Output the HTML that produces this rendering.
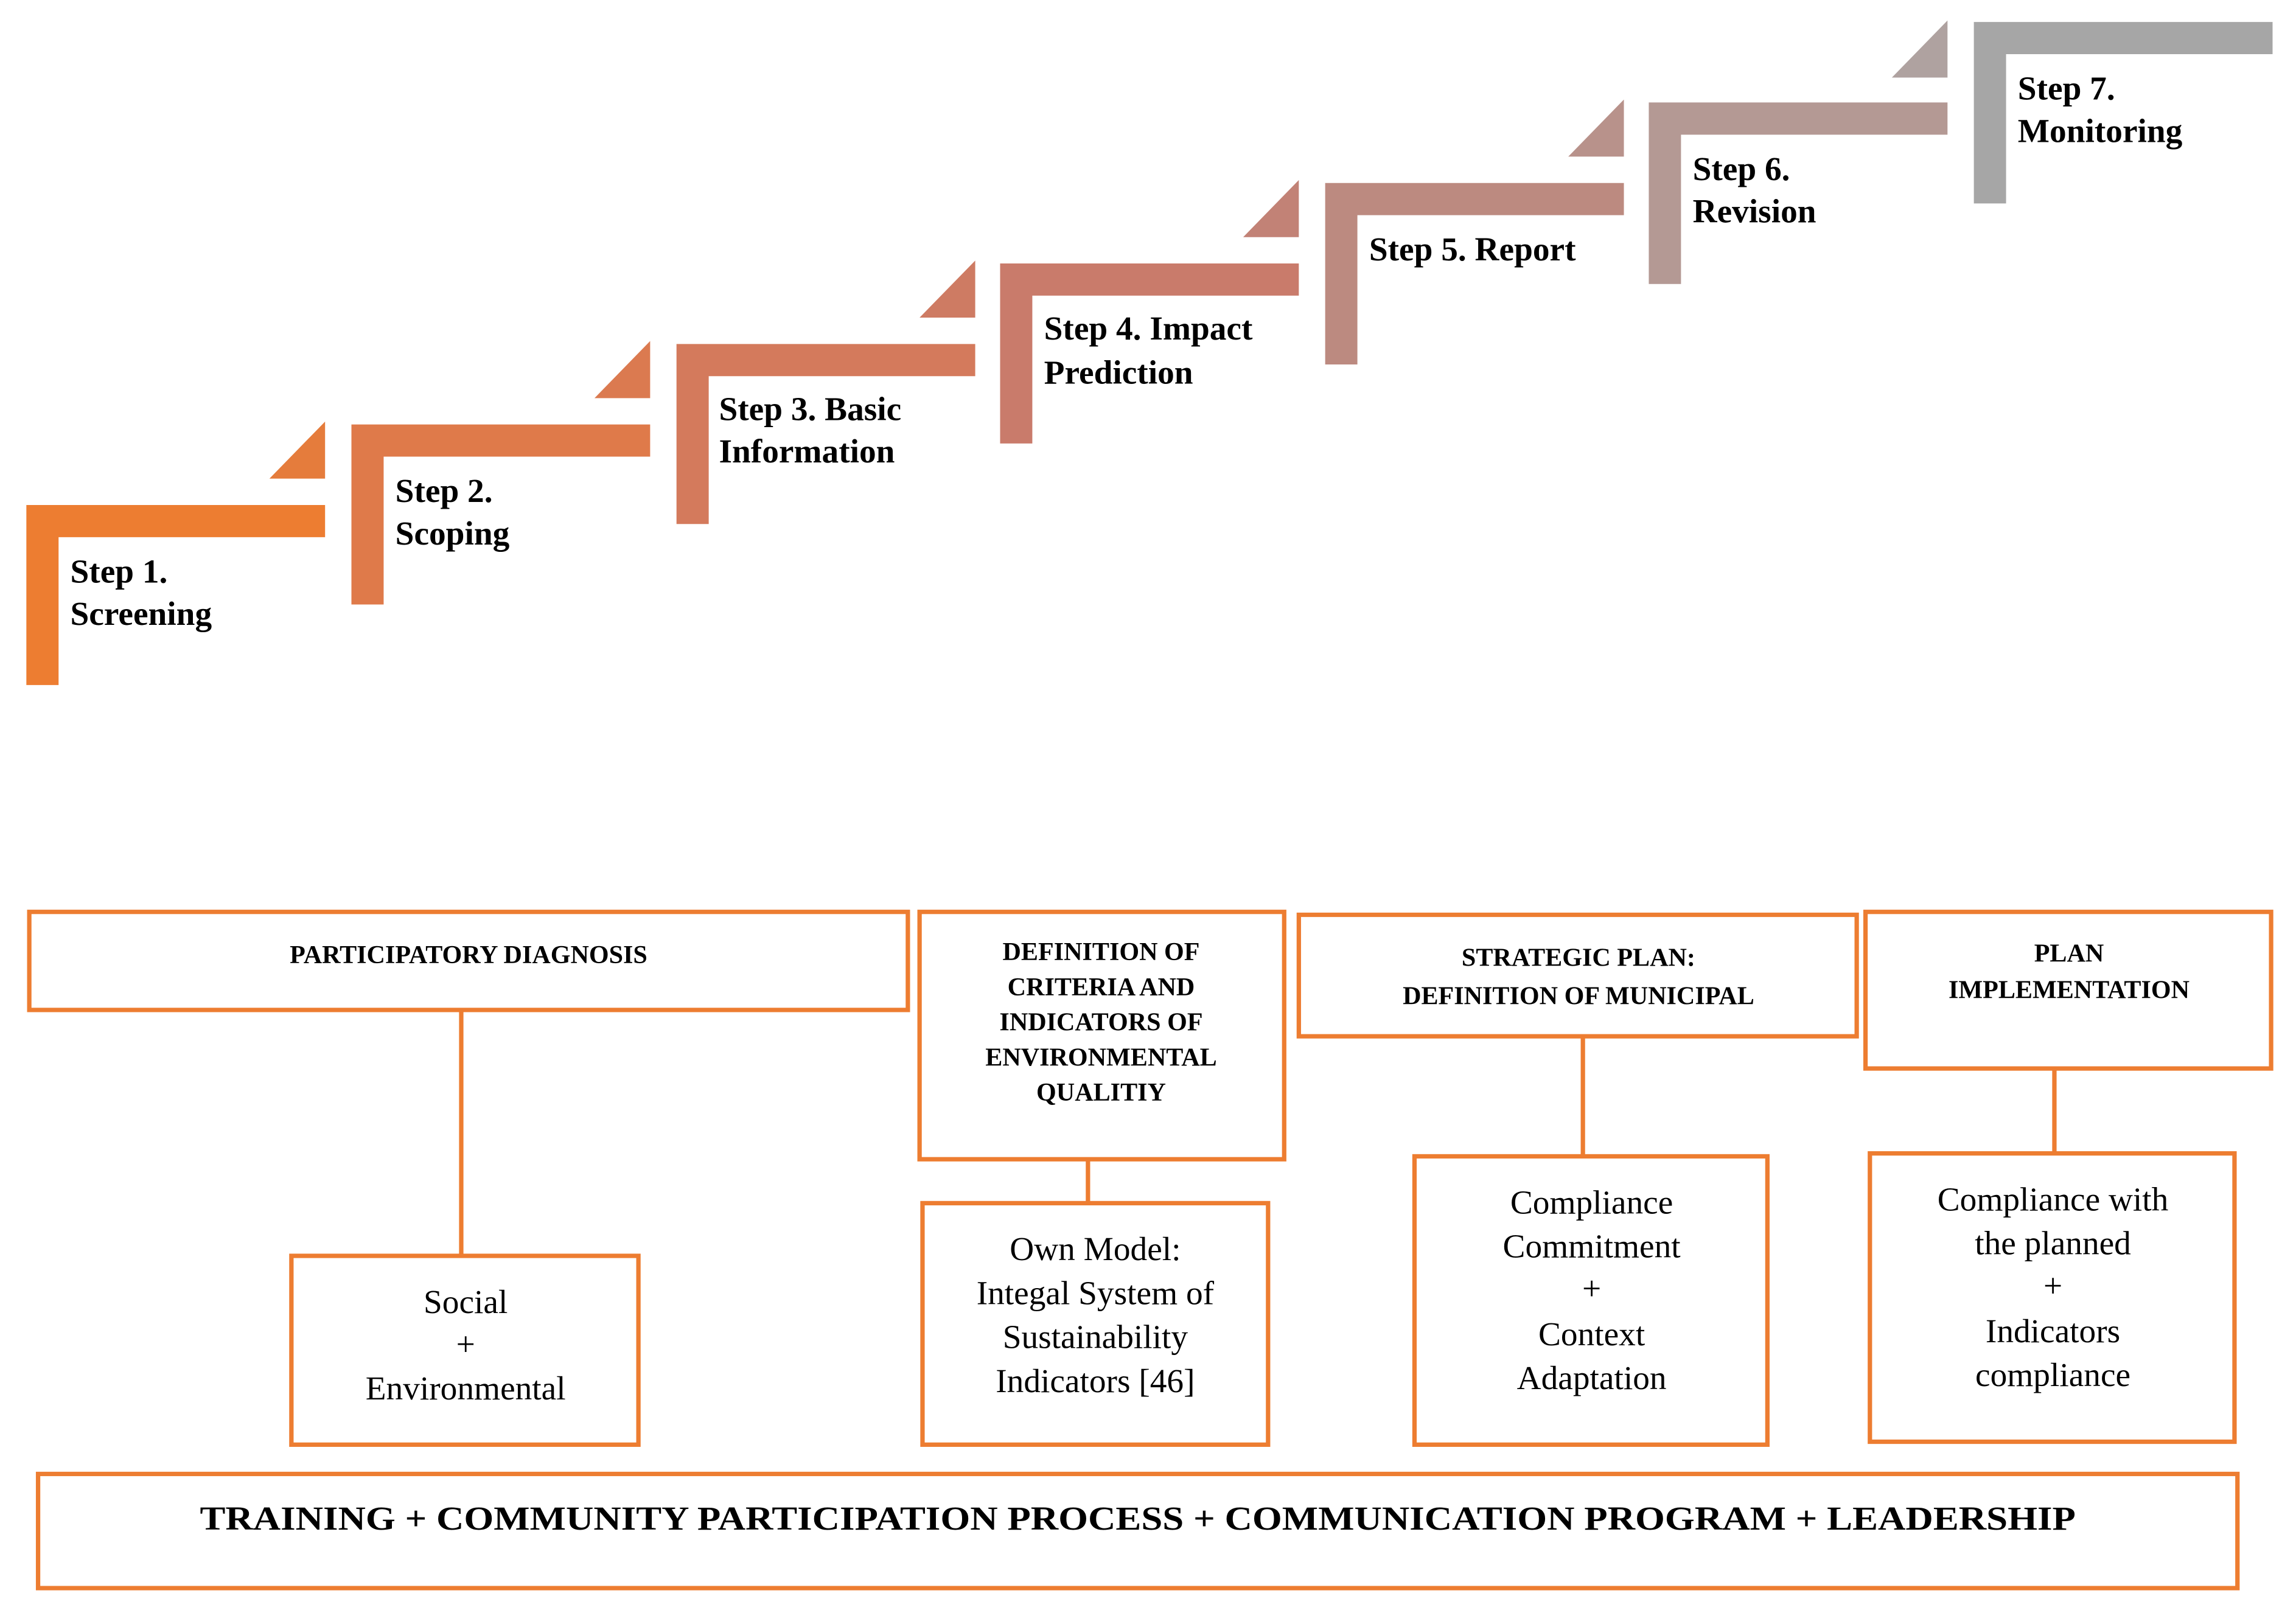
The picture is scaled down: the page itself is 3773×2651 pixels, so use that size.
<!DOCTYPE html>
<html><head><meta charset="utf-8"><style>
html,body{margin:0;padding:0;background:#fff;}
svg{display:block;}
.st{font-family:"Liberation Serif",serif;font-weight:bold;font-size:23px;fill:#000;}
.hd{font-family:"Liberation Serif",serif;font-weight:bold;font-size:17.5px;fill:#000;text-anchor:middle;}
.bd{font-family:"Liberation Serif",serif;font-size:23px;fill:#000;text-anchor:middle;}
.bx{fill:none;stroke:#ED7D31;stroke-width:3;}
</style></head><body>
<svg width="3773" height="2651" viewBox="0 0 1568 1102" preserveAspectRatio="none" xmlns="http://www.w3.org/2000/svg">
<!-- steps -->
<path d="M18 345H222V367H40V468H18Z" fill="#ED7D31"/>
<path d="M240 290H444V312H262V413H240Z" fill="#DF7A4A"/>
<path d="M184 327L222 288V327Z" fill="#E57C3C"/>
<path d="M462 235H666V257H484V358H462Z" fill="#D47A5C"/>
<path d="M406 272L444 233V272Z" fill="#DB7A50"/>
<path d="M683 180H887V202H705V303H683Z" fill="#C97B6B"/>
<path d="M628 217L666 178V217Z" fill="#CE7B63"/>
<path d="M905 125H1109V147H927V249H905Z" fill="#BC8A80"/>
<path d="M849 162L887 123V162Z" fill="#C28276"/>
<path d="M1126 70H1330V92H1148V194H1126Z" fill="#B49994"/>
<path d="M1071 107L1109 68V107Z" fill="#B8928B"/>
<path d="M1348 15H1552V37H1370V139H1348Z" fill="#A6A6A6"/>
<path d="M1292 53L1330 14V53Z" fill="#AFA2A0"/>
<text class="st" x="48" y="398">Step 1.</text><text class="st" x="48" y="427">Screening</text>
<text class="st" x="270" y="343">Step 2.</text><text class="st" x="270" y="372">Scoping</text>
<text class="st" x="491" y="287">Step 3. Basic</text><text class="st" x="491" y="316">Information</text>
<text class="st" x="713" y="232">Step 4. Impact</text><text class="st" x="713" y="262">Prediction</text>
<text class="st" x="935" y="178">Step 5. Report</text>
<text class="st" x="1156" y="123">Step 6.</text><text class="st" x="1156" y="152">Revision</text>
<text class="st" x="1378" y="68">Step 7.</text><text class="st" x="1378" y="97">Monitoring</text>
<!-- boxes -->
<rect class="bx" x="20" y="623" width="600" height="67"/>
<text class="hd" x="320" y="658">PARTICIPATORY DIAGNOSIS</text>
<line class="bx" x1="315" y1="690" x2="315" y2="858"/>
<rect class="bx" x="199" y="858" width="237" height="129"/>
<text class="bd" x="318" y="897">Social</text><text class="bd" x="318" y="926">+</text><text class="bd" x="318" y="956">Environmental</text>

<rect class="bx" x="628" y="623" width="249" height="169"/>
<text class="hd" x="752" y="656">DEFINITION OF</text><text class="hd" x="752" y="680">CRITERIA AND</text><text class="hd" x="752" y="704">INDICATORS OF</text><text class="hd" x="752" y="728">ENVIRONMENTAL</text><text class="hd" x="752" y="752">QUALITIY</text>
<line class="bx" x1="743" y1="792" x2="743" y2="822"/>
<rect class="bx" x="630" y="822" width="236" height="165"/>
<text class="bd" x="748" y="861">Own Model:</text><text class="bd" x="748" y="891">Integal System of</text><text class="bd" x="748" y="921">Sustainability</text><text class="bd" x="748" y="951">Indicators [46]</text>

<rect class="bx" x="887" y="625" width="381" height="83"/>
<text class="hd" x="1078" y="660">STRATEGIC PLAN:</text><text class="hd" x="1078" y="686">DEFINITION OF MUNICIPAL</text>
<line class="bx" x1="1081" y1="708" x2="1081" y2="790"/>
<rect class="bx" x="966" y="790" width="241" height="197"/>
<text class="bd" x="1087" y="829">Compliance</text><text class="bd" x="1087" y="859">Commitment</text><text class="bd" x="1087" y="888">+</text><text class="bd" x="1087" y="919">Context</text><text class="bd" x="1087" y="949">Adaptation</text>

<rect class="bx" x="1274" y="623" width="277" height="107"/>
<text class="hd" x="1413" y="657">PLAN</text><text class="hd" x="1413" y="682">IMPLEMENTATION</text>
<line class="bx" x1="1403" y1="730" x2="1403" y2="788"/>
<rect class="bx" x="1277" y="788" width="249" height="197"/>
<text class="bd" x="1402" y="827">Compliance with</text><text class="bd" x="1402" y="857">the planned</text><text class="bd" x="1402" y="886">+</text><text class="bd" x="1402" y="917">Indicators</text><text class="bd" x="1402" y="947">compliance</text>

<rect class="bx" x="26" y="1007" width="1502" height="78"/>
<text x="777" y="1045" text-anchor="middle" textLength="1281" lengthAdjust="spacingAndGlyphs" style="font-family:'Liberation Serif',serif;font-weight:bold;font-size:23px;">TRAINING + COMMUNITY PARTICIPATION PROCESS + COMMUNICATION PROGRAM + LEADERSHIP</text>
</svg>
</body></html>
